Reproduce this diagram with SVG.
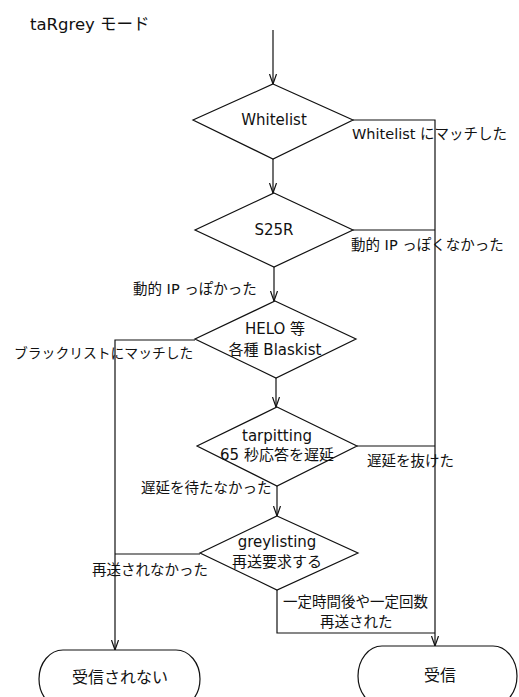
<svg xmlns="http://www.w3.org/2000/svg" width="519" height="697" viewBox="0 0 519 697">
<style>
.s{fill:none;stroke:#111;stroke-width:1.2}
.t{font-family:"DejaVu Sans","Noto Sans CJK JP",sans-serif;font-size:14.5px;fill:#111}
.n{font-family:"DejaVu Sans","Noto Sans CJK JP",sans-serif;font-size:15px;fill:#111;text-anchor:middle}
</style>
<defs>
<marker id="a" markerUnits="userSpaceOnUse" markerWidth="10" markerHeight="10" viewBox="0 0 10 10" refX="10" refY="5" orient="auto">
<path d="M0,1.5 L10,5 L0,8.5" fill="none" stroke="#111" stroke-width="1.2"/>
</marker>
</defs>
<rect width="519" height="697" fill="#fff"/>
<text x="30" y="30" class="t" style="font-size:16.5px">taRgrey モード</text>
<g id="connectors" class="s">
<path d="M273,30 V84" marker-end="url(#a)"/>
<path d="M273,159 V193" marker-end="url(#a)"/>
<path d="M274,267 V301" marker-end="url(#a)"/>
<path d="M276,378 V407" marker-end="url(#a)"/>
<path d="M277,486 V516" marker-end="url(#a)"/>
<path d="M353,120 H435 V646" marker-end="url(#a)"/>
<path d="M353,230 H435"/>
<path d="M357,446 H435"/>
<path d="M195,340 H115 V650" marker-end="url(#a)"/>
<path d="M200,554 H115"/>
<path d="M277,590 V633 H435"/>
</g>
<g id="labels">
<text x="352" y="139" class="t">Whitelist にマッチした</text>
<text x="351" y="250" class="t">動的 IP っぽくなかった</text>
<text x="133" y="294" class="t">動的 IP っぽかった</text>
<text x="14" y="358" class="t" style="font-size:13.8px">ブラックリストにマッチした</text>
<text x="367" y="466" class="t">遅延を抜けた</text>
<text x="141" y="493" class="t">遅延を待たなかった</text>
<text x="92" y="575" class="t">再送されなかった</text>
<text x="283" y="607" class="t">一定時間後や一定回数</text>
<text x="320" y="627" class="t">再送された</text>
</g>
<g id="whitelist">
<polygon class="s" points="273,84 353,120 273,159 193,120"/>
<text x="274" y="125" class="n">Whitelist</text>
</g>
<g id="s25r">
<polygon class="s" points="274,193 353,230 274,267 195,230"/>
<text x="274" y="235" class="n">S25R</text>
</g>
<g id="helo">
<polygon class="s" points="275,301 356,339 276,378 195,339"/>
<text x="275" y="334" class="n">HELO 等</text>
<text x="275" y="355" class="n">各種 Blaskist</text>
</g>
<g id="tarpitting">
<polygon class="s" points="277,407 357,446 277,486 197,446"/>
<text x="277" y="441" class="n">tarpitting</text>
<text x="277" y="460" class="n">65 秒応答を遅延</text>
</g>
<g id="greylisting">
<polygon class="s" points="277,516 358,553 277,590 200,553"/>
<text x="277" y="547" class="n">greylisting</text>
<text x="277" y="567" class="n">再送要求する</text>
</g>
<g id="reject">
<rect class="s" x="39" y="650" width="161" height="58" rx="24" ry="29"/>
<text x="120" y="683" class="n" style="font-size:16px">受信されない</text>
</g>
<g id="accept">
<rect class="s" x="358" y="646" width="159" height="60" rx="24" ry="30"/>
<text x="440" y="681" class="n" style="font-size:16px">受信</text>
</g>
</svg>
